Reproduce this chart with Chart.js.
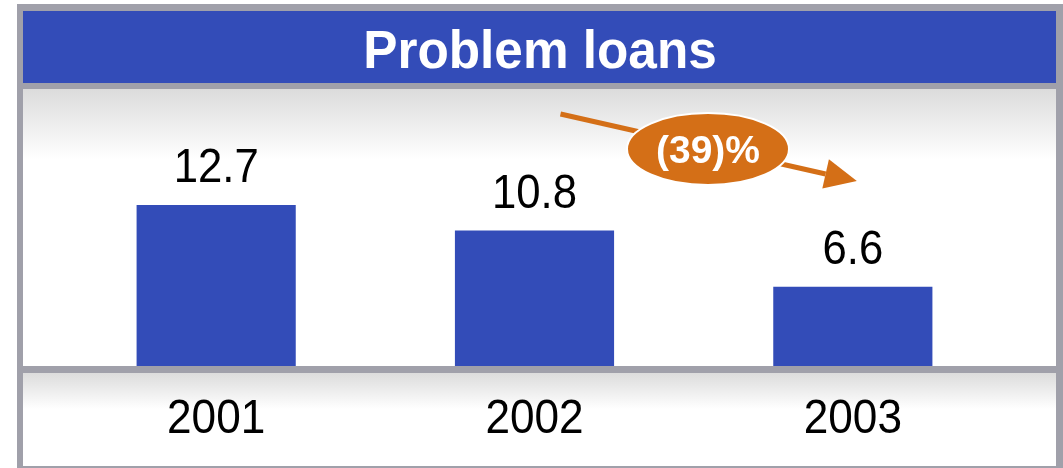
<!DOCTYPE html>
<html>
<head>
<meta charset="utf-8">
<script src="https://cdn.jsdelivr.net/npm/chart.js@4"></script>
<style>
  html, body { margin: 0; padding: 0; background: #fff; }
  #wrap { width: 1063px; height: 468px; }
</style>
</head>
<body>
<div id="wrap"><canvas id="chart" width="1063" height="468"></canvas></div>
<script>
// chart data
const years = ['2001', '2002', '2003'];
const problemLoans = [12.7, 10.8, 6.6];
const changeLabel = '(39)%';
const chartTitle = 'Problem loans';

const BLUE = '#334cb8';
const FRAME = '#a0a0aa';
const ORANGE = '#d46f17';
const FONT = "'Liberation Sans', Arial, sans-serif";

// draw text squeezed a little horizontally, like the original
function squeezedText(ctx, txt, x, y, font, color, sx) {
  ctx.save();
  ctx.font = font;
  ctx.fillStyle = color;
  ctx.textAlign = 'center';
  ctx.textBaseline = 'alphabetic';
  ctx.translate(x, y);
  ctx.scale(sx, 1);
  ctx.fillText(txt, 0, 0);
  ctx.restore();
}

// frame, title bar and shaded bands behind the plot
const framePlugin = {
  id: 'frame',
  beforeDraw(chart) {
    const ctx = chart.ctx;
    const ca = chart.chartArea;
    const L = 17, R = 1063, T = 4, B = 468;
    ctx.save();
    ctx.fillStyle = FRAME;
    ctx.fillRect(L, T, R - L, B - T);
    // title bar
    ctx.fillStyle = BLUE;
    ctx.fillRect(23, 11, 1033, 72);
    // plot band
    let g = ctx.createLinearGradient(0, ca.top, 0, ca.top + 70);
    g.addColorStop(0, '#dcdcdc');
    g.addColorStop(1, '#ffffff');
    ctx.fillStyle = g;
    ctx.fillRect(23, ca.top, 1033, ca.bottom - ca.top);
    // label band
    const lt = ca.bottom + 7;
    g = ctx.createLinearGradient(0, lt, 0, lt + 36);
    g.addColorStop(0, '#dcdcdc');
    g.addColorStop(1, '#ffffff');
    ctx.fillStyle = g;
    ctx.fillRect(23, lt, 1033, 466 - lt);
    ctx.restore();
    squeezedText(ctx, chartTitle, 540, 68, 'bold 54px ' + FONT, '#ffffff', 0.95);
  },
  afterDatasetsDraw(chart) {
    const ctx = chart.ctx;
    const ca = chart.chartArea;
    const xs = chart.scales.x;
    const bars = chart.getDatasetMeta(0).data;
    bars.forEach((bar, i) => {
      squeezedText(ctx, problemLoans[i].toFixed(1), bar.x, bar.y - 23, '48px ' + FONT, '#000', 0.91);
      squeezedText(ctx, years[i], xs.getPixelForValue(i), ca.bottom + 67, '48px ' + FONT, '#000', 0.92);
    });

    // trend arrow from 2002 toward 2003
    const x0 = xs.getPixelForValue(1) + 26, y0 = ca.top + 25;
    const x1 = xs.getPixelForValue(2) + 4, y1 = ca.top + 92;
    const ang = Math.atan2(y1 - y0, x1 - x0);
    const head = 32, half = 15;
    const bx = x1 - head * Math.cos(ang), by = y1 - head * Math.sin(ang);
    ctx.save();
    ctx.strokeStyle = ORANGE;
    ctx.fillStyle = ORANGE;
    ctx.lineWidth = 5;
    ctx.beginPath();
    ctx.moveTo(x0, y0);
    ctx.lineTo(bx, by);
    ctx.stroke();
    ctx.beginPath();
    ctx.moveTo(x1, y1);
    ctx.lineTo(bx + half * Math.sin(ang), by - half * Math.cos(ang));
    ctx.lineTo(bx - half * Math.sin(ang), by + half * Math.cos(ang));
    ctx.closePath();
    ctx.fill();
    // badge
    const cx = 708, cy = 149;
    ctx.beginPath();
    ctx.ellipse(cx, cy, 81, 36, 0, 0, Math.PI * 2);
    ctx.fill();
    ctx.lineWidth = 2;
    ctx.strokeStyle = '#ffffff';
    ctx.stroke();
    ctx.restore();
    squeezedText(ctx, changeLabel, cx, cy + 14, 'bold 39px ' + FONT, '#ffffff', 1);
  }
};

// gray baseline under the bars
const baselinePlugin = {
  id: 'baseline',
  afterDraw(chart) {
    const ctx = chart.ctx;
    const ca = chart.chartArea;
    ctx.save();
    ctx.fillStyle = FRAME;
    ctx.fillRect(17, ca.bottom, 1046, 7);
    ctx.restore();
  }
};

new Chart(document.getElementById('chart'), {
  type: 'bar',
  data: {
    labels: years,
    datasets: [{
      data: problemLoans,
      backgroundColor: BLUE,
      borderWidth: 0,
      barPercentage: 1,
      categoryPercentage: 0.5,
    }],
  },
  options: {
    responsive: false,
    animation: false,
    events: [],
    layout: { padding: { left: 57, right: 51, top: 89, bottom: 102 } },
    plugins: {
      legend: { display: false },
      tooltip: { enabled: false },
      title: { display: false },
    },
    scales: {
      x: { display: false, grid: { display: false } },
      y: { display: false, min: 0.68, max: 21.37, grid: { display: false } },
    },
  },
  plugins: [framePlugin, baselinePlugin],
});
</script>
</body>
</html>
